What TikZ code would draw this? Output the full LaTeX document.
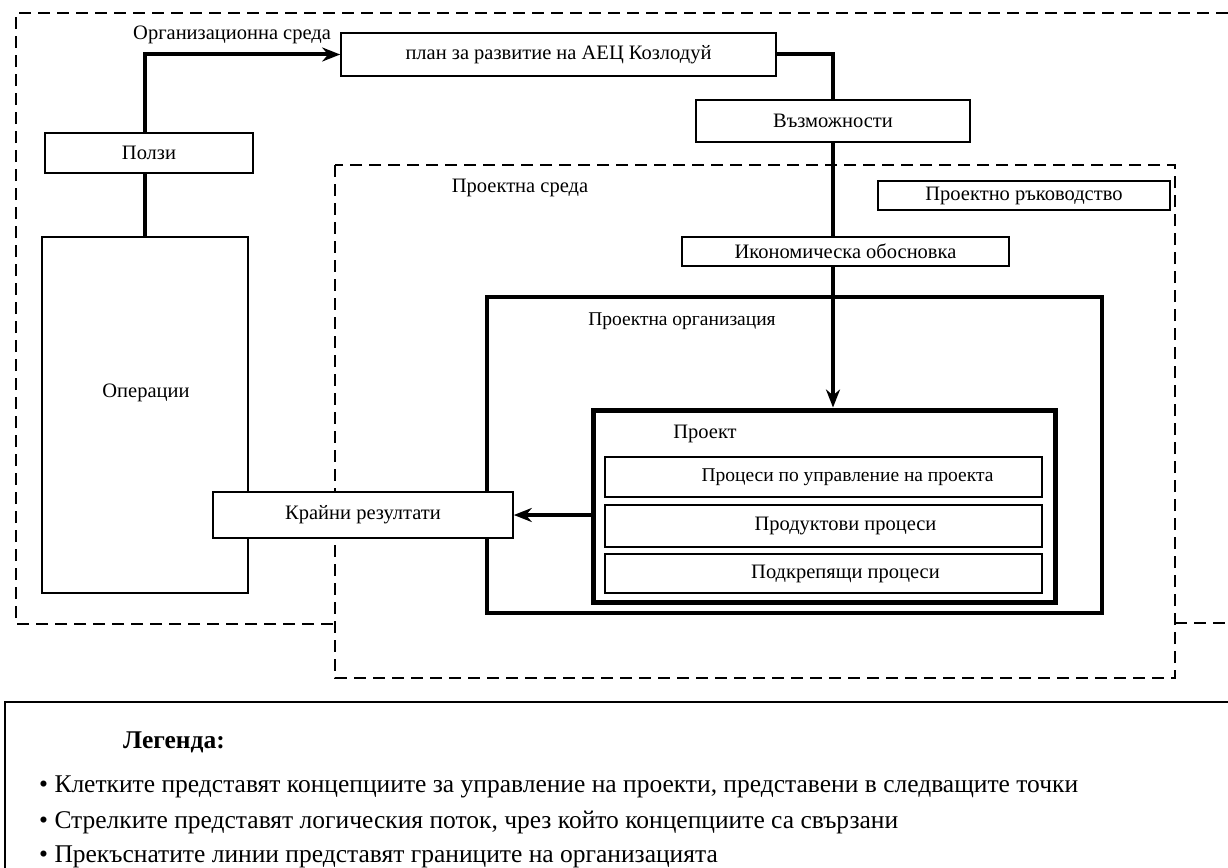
\documentclass[tikz,border=0pt]{standalone}
\usepackage{fontspec}
\setmainfont{Liberation Serif}
\usetikzlibrary{arrows.meta}
\begin{document}
\begin{tikzpicture}[x=1pt,y=-1pt,
  box/.style={draw, line width=1.6pt, fill=white, inner sep=0pt, font=\fontsize{20.5}{23}\selectfont},
  lbl/.style={inner sep=0pt, font=\fontsize{20.5}{23}\selectfont},
  conn/.style={line width=4pt},
  arr/.style={line width=4pt, -{Stealth[length=18pt, width=14pt]}},
  envline/.style={line width=1.8pt, dash pattern=on 12pt off 7pt},
  orgbox/.style={draw, line width=4pt, inner sep=0pt},
  projbox/.style={draw, line width=5pt, inner sep=0pt},
  legtext/.style={anchor=west, inner sep=0pt, font=\fontsize{25.5}{29}\selectfont}]
\useasboundingbox (0,0) rectangle (1228,867);
\fill[white] (0,0) rectangle (1228,867);

% outer organisational environment (dashed)
\draw[envline] (333,624) -- (16,624) -- (16,13) -- (1228,13);
\draw[envline] (1175,623) -- (1228,623);
\node[lbl, anchor=west] (orglbl) at (133,35) {Организационна среда};

% project environment (dashed)
\draw[envline] (335,165) rectangle (1175,678);
\node[lbl] (envlbl) at (520,188) {Проектна среда};

% project organisation
\node[orgbox, minimum width=615pt, minimum height=316pt] (porg) at (794.5,455) {};
\node[lbl, font=\fontsize{19.5}{22}\selectfont] (porglbl) at (682,321) {Проектна организация};

% project
\node[projbox, minimum width=462pt, minimum height=192pt] (proekt) at (824,506) {};
\node[lbl] (proektlbl) at (705,434) {Проект};
\node[box, minimum width=437pt, minimum height=40pt, label={[lbl, font=\fontsize{19.5}{22}\selectfont, xshift=24pt]center:Процеси по управление на проекта}] (upr) at (823.5,477) {};
\node[box, minimum width=437pt, minimum height=42pt, label={[lbl, xshift=22pt]center:Продуктови процеси}] (prod) at (823.5,526) {};
\node[box, minimum width=437pt, minimum height=39pt, label={[lbl, xshift=22pt]center:Подкрепящи процеси}] (podk) at (823.5,573.5) {};

% other boxes
\node[box, minimum width=435pt, minimum height=43pt] (plan) at (558.5,54.5) {план за развитие на АЕЦ Козлодуй};
\node[box, minimum width=274pt, minimum height=42pt] (vazm) at (833,121) {Възможности};
\node[box, minimum width=292pt, minimum height=29pt] (rak) at (1024,195.5) {Проектно ръководство};
\node[box, minimum width=327pt, minimum height=29pt] (ikon) at (845.5,251.5) {Икономическа обосновка};
\node[box, minimum width=208pt, minimum height=40pt] (polzi) at (149,153) {Ползи};
\node[box, minimum width=206pt, minimum height=356pt] (oper) at (145,415) {};
\node[lbl] (operlbl) at (146,393) {Операции};

% connectors
\draw[arr] (polzi.north -| oper.north) |- (plan.west);
\draw[conn] (polzi.south -| oper.north) -- (oper.north);
\draw[conn] (plan.east) -| (vazm.north);
\draw[conn] (vazm.south) -- (vazm.south |- ikon.north);
\draw[arr] (vazm.south |- ikon.south) -- (vazm.south |- proekt.north);

% final results (on top)
\node[box, minimum width=300pt, minimum height=46pt] (krajni) at (363,515) {Крайни резултати};
\draw[arr] (proekt.west |- krajni.east) -- (krajni.east);

% legend
\draw[line width=1.8pt] (5,880) -- (5,702) -- (1240,702);
\node[inner sep=0pt, anchor=west, font=\fontsize{25.5}{29}\selectfont\bfseries] (legtitle) at (123,742) {Легенда:};
\node[legtext] (leg1) at (39,787) {\textbullet\ Клетките представят концепциите за управление на проекти, представени в следващите точки};
\node[legtext] (leg2) at (39,822) {\textbullet\ Стрелките представят логическия поток, чрез който концепциите са свързани};
\node[legtext] (leg3) at (39,857) {\textbullet\ Прекъснатите линии представят границите на организацията};
\end{tikzpicture}
\end{document}
